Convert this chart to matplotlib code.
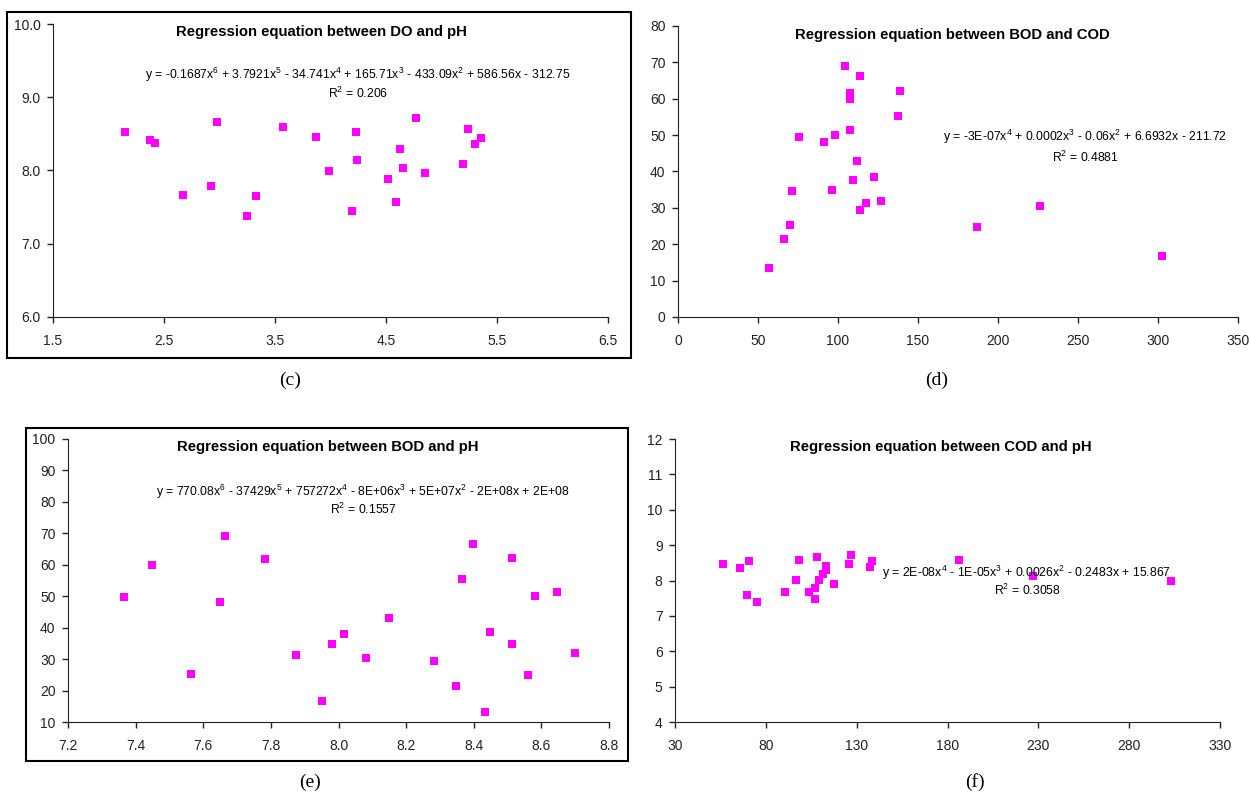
import matplotlib
matplotlib.use("Agg")
import matplotlib.pyplot as plt
from matplotlib.patches import Rectangle
from matplotlib.ticker import FormatStrFormatter

plt.rcParams['font.family'] = ['Liberation Sans', 'DejaVu Sans']
plt.rcParams['mathtext.fontset'] = 'custom'
plt.rcParams['mathtext.rm'] = 'Liberation Sans'
plt.rcParams['mathtext.it'] = 'Liberation Sans:italic'

# (c) DO vs pH
do_x = [2.15, 2.37, 2.42, 2.67, 2.92, 2.98, 3.25, 3.33, 3.57, 3.87, 3.99, 4.19,
        4.23, 4.24, 4.52, 4.59, 4.63, 4.65, 4.77, 4.85, 5.19, 5.24, 5.30, 5.36]
do_y = [8.53, 8.41, 8.37, 7.67, 7.79, 8.66, 7.38, 7.65, 8.59, 8.46, 7.99, 7.45,
        8.52, 8.15, 7.89, 7.57, 8.29, 8.03, 8.72, 7.96, 8.09, 8.57, 8.36, 8.45]

# (d) BOD vs COD
cod_x = [56.9, 66.0, 70.0, 71.0, 75.9, 91.3, 96.5, 98.2, 104.4, 107.8, 107.8, 107.8,
         109.1, 112.0, 113.5, 113.5, 117.2, 122.4, 126.9, 137.8, 139.0, 186.7, 226.3, 302.7]
bod_y = [13.4, 21.5, 25.2, 34.7, 49.6, 48.2, 34.9, 49.9, 68.9, 51.4, 61.5, 60.0,
         37.7, 42.8, 29.4, 66.3, 31.4, 38.4, 31.8, 55.2, 62.0, 24.8, 30.4, 16.7]

# (e) BOD vs pH
ph_x = [7.367, 7.448, 7.565, 7.649, 7.665, 7.782, 7.874, 7.950, 7.981, 8.016, 8.082, 8.148,
        8.281, 8.347, 8.366, 8.398, 8.432, 8.449, 8.514, 8.514, 8.560, 8.582, 8.647, 8.699]
bodph_y = [49.7, 60.0, 25.3, 48.2, 69.1, 61.7, 31.4, 16.7, 34.8, 38.0, 30.5, 43.1,
           29.4, 21.4, 55.4, 66.6, 13.3, 38.5, 34.8, 62.3, 25.1, 50.0, 51.4, 31.9]

# (f) COD vs pH
codph_x = [56.6, 65.7, 69.4, 70.5, 75.3, 90.7, 96.8, 98.1, 104.0, 107.3, 107.3, 107.9,
           109.0, 111.4, 113.2, 113.2, 117.3, 125.6, 126.9, 137.6, 138.4, 186.3, 227.0, 302.8]
codph_y = [8.47, 8.36, 7.58, 8.54, 7.40, 7.68, 8.01, 8.59, 7.68, 7.47, 7.80, 8.66,
           8.02, 8.19, 8.42, 8.31, 7.90, 8.47, 8.72, 8.39, 8.55, 8.59, 8.13, 7.98]

titles = ["Regression equation between DO and pH",
          "Regression equation between BOD and COD",
          "Regression equation between BOD and pH",
          "Regression equation between COD and pH"]
equations = [r"y = -0.1687x$^{6}$ + 3.7921x$^{5}$ - 34.741x$^{4}$ + 165.71x$^{3}$ - 433.09x$^{2}$ + 586.56x - 312.75",
             r"y = -3E-07x$^{4}$ + 0.0002x$^{3}$ - 0.06x$^{2}$ + 6.6932x - 211.72",
             r"y = 770.08x$^{6}$ - 37429x$^{5}$ + 757272x$^{4}$ - 8E+06x$^{3}$ + 5E+07x$^{2}$ - 2E+08x + 2E+08",
             r"y = 2E-08x$^{4}$ - 1E-05x$^{3}$ + 0.0026x$^{2}$ - 0.2483x + 15.867"]
r2_labels = [r"R$^{2}$ = 0.206", r"R$^{2}$ = 0.4881", r"R$^{2}$ = 0.1557", r"R$^{2}$ = 0.3058"]
panel_labels = ["(c)", "(d)", "(e)", "(f)"]

W, H = 1251, 794
fig = plt.figure(figsize=(W / 100, H / 100), dpi=100)


def px_axes(l, t, r, b):
    return fig.add_axes([l / W, 1 - b / H, (r - l) / W, (b - t) / H])


def fx(x):
    return x / W


def fy(y):
    return 1 - y / H


panels = [
    dict(box=(53, 24, 608, 317), x=do_x, y=do_y, xlim=(1.5, 6.5), xstep=1.0,
         ylim=(6.0, 10.0), ystep=1.0, xfmt='%.1f', yfmt='%.1f',
         title=(321, 32), eq=(358, 75), r2=(358, 93)),
    dict(box=(678, 26, 1238, 317), x=cod_x, y=bod_y, xlim=(0, 350), xstep=50,
         ylim=(0, 80), ystep=10, xfmt='%d', yfmt='%d',
         title=(952, 35), eq=(1085, 137), r2=(1085, 157)),
    dict(box=(68, 439, 609, 722), x=ph_x, y=bodph_y, xlim=(7.2, 8.8), xstep=0.2,
         ylim=(10, 100), ystep=10, xfmt='%.1f', yfmt='%d',
         title=(328, 447), eq=(363, 492), r2=(363, 509)),
    dict(box=(675, 439, 1220, 722), x=codph_x, y=codph_y, xlim=(30, 330), xstep=50,
         ylim=(4, 12), ystep=1, xfmt='%d', yfmt='%d',
         title=(941, 447), eq=(1027, 573), r2=(1027, 590)),
]
label_pos = [(290, 380), (937, 380), (310, 782), (975, 782)]

for i, p in enumerate(panels):
    ax = px_axes(*p['box'])
    ax.scatter(p['x'], p['y'], marker='s', s=28, color='#FF00FF', linewidths=0, zorder=3,
               clip_on=False)
    ax.set_xlim(*p['xlim'])
    ax.set_ylim(*p['ylim'])
    n = int(round((p['xlim'][1] - p['xlim'][0]) / p['xstep']))
    ax.set_xticks([p['xlim'][0] + k * p['xstep'] for k in range(n + 1)])
    n = int(round((p['ylim'][1] - p['ylim'][0]) / p['ystep']))
    ax.set_yticks([p['ylim'][0] + k * p['ystep'] for k in range(n + 1)])
    ax.xaxis.set_major_formatter(FormatStrFormatter(p['xfmt']))
    ax.yaxis.set_major_formatter(FormatStrFormatter(p['yfmt']))
    ax.spines['top'].set_visible(False)
    ax.spines['right'].set_visible(False)
    for s in ('left', 'bottom'):
        ax.spines[s].set_color('#222222')
    ax.tick_params(direction='out', length=4, width=1, labelsize=10, colors='#222222')
    ax.tick_params(axis='x', pad=8)
    ax.tick_params(axis='y', pad=5)
    ax.patch.set_alpha(0)
    fig.text(fx(p['title'][0]), fy(p['title'][1]), titles[i], ha='center', va='center',
             fontsize=10.7, fontweight='bold')
    fig.text(fx(p['eq'][0]), fy(p['eq'][1]), equations[i], ha='center', va='center',
             fontsize=8.8)
    fig.text(fx(p['r2'][0]), fy(p['r2'][1]), r2_labels[i], ha='center', va='center',
             fontsize=8.8)
    fig.text(fx(label_pos[i][0]), fy(label_pos[i][1]), panel_labels[i], ha='center',
             va='center', fontsize=14, family='Liberation Serif')

# outer chart frames around (c) and (e)
for l, t, r, b in [(7, 12, 631, 358), (26, 428, 628, 761)]:
    fig.patches.append(Rectangle((fx(l), fy(b)), (r - l) / W, (b - t) / H,
                                 transform=fig.transFigure, fill=False,
                                 edgecolor='black', linewidth=1.5))

fig.savefig("out.png", dpi=100)
